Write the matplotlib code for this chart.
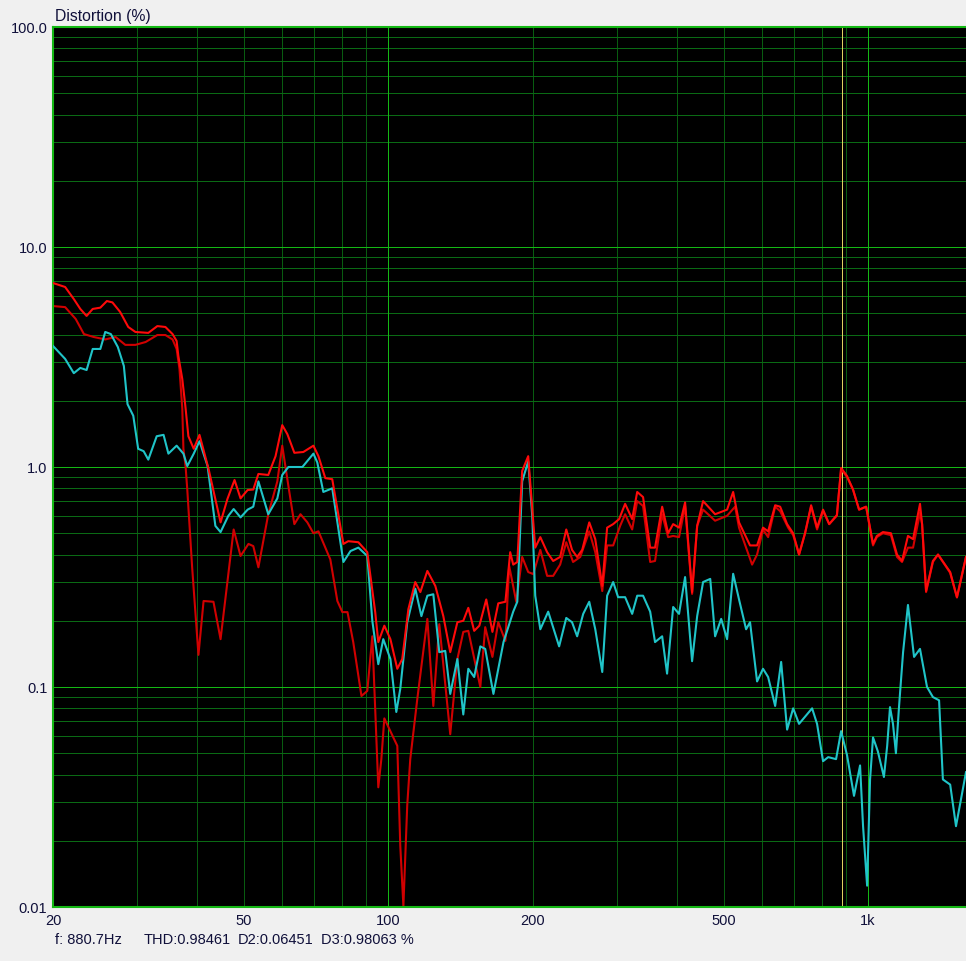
import matplotlib
matplotlib.use("Agg")
import matplotlib.pyplot as plt
from matplotlib.ticker import FixedLocator, NullFormatter

plt.rcParams['font.family'] = ['Liberation Sans', 'DejaVu Sans']

# ---------------- data (frequency in Hz, distortion in %) ----------------
thd_f = [20.0, 21.2, 22.1, 22.8, 23.5, 24.2, 25.1, 25.9, 26.6, 27.6, 28.7, 29.7, 31.6, 33.0, 34.3,
         35.5, 36.2, 36.5, 37.2, 37.8, 38.3, 39.3, 40.4, 42.2, 44.7, 46.2, 47.8, 49.2, 50.9, 52.3,
         53.6, 56.2, 58.2, 60.1, 61.6, 63.7, 66.5, 69.8, 71.5, 73.9, 76.4, 80.6, 82.5, 86.6, 90.4,
         93.9, 95.3, 98.1, 101.0, 104.4, 106.9, 110.1, 113.8, 116.6, 120.6, 125.3, 130.2, 134.6,
         139.3, 143.3, 146.8, 151.0, 154.8, 160.0, 164.8, 169.5, 175.4, 179.5, 182.1, 185.7, 190.1,
         195.7, 198.6, 202.4, 207.4, 214.3, 220.6, 228.1, 234.9, 241.5, 247.5, 253.6, 262.3, 270.0,
         279.2, 285.8, 294.2, 302.8, 311.6, 322.3, 330.2, 339.6, 351.4, 359.7, 372.2, 383.0, 392.4,
         403.6, 415.5, 429.7, 440.3, 453.0, 479.9, 508.3, 523.3, 538.3, 567.5, 573.1, 587.0, 604.0,
         619.0, 640.2, 655.7, 678.0, 698.0, 718.0, 739.0, 760.8, 782.8, 805.7, 829.8, 861.0, 878.6,
         903.9, 930.2, 957.7, 990.7, 1024, 1043, 1074, 1116, 1149, 1177, 1211, 1241, 1283, 1296,
         1321, 1365, 1399, 1483, 1532, 1600]
thd_v = [6.86, 6.58, 5.8, 5.23, 4.86, 5.23, 5.3, 5.68, 5.6, 5.07, 4.33, 4.11, 4.07, 4.37, 4.33,
         4.02, 3.74, 3.2, 2.51, 1.84, 1.38, 1.21, 1.40, 0.98, 0.56, 0.716, 0.873, 0.72, 0.786, 0.79,
         0.93, 0.92, 1.12, 1.55, 1.41, 1.16, 1.17, 1.25, 1.12, 0.89, 0.88, 0.447, 0.46, 0.455, 0.41,
         0.219, 0.16, 0.19, 0.165, 0.121, 0.134, 0.226, 0.30, 0.27, 0.337, 0.288, 0.21, 0.144,
         0.197, 0.2, 0.229, 0.18, 0.19, 0.25, 0.178, 0.24, 0.244, 0.41, 0.36, 0.37, 0.96,
         1.12, 0.74, 0.43, 0.48, 0.41, 0.374, 0.39, 0.52, 0.42, 0.39, 0.42, 0.56, 0.47,
         0.288, 0.53, 0.55, 0.58, 0.68, 0.58, 0.77, 0.73, 0.43, 0.43, 0.66, 0.50, 0.55,
         0.53, 0.69, 0.27, 0.54, 0.70, 0.61, 0.64, 0.77, 0.56, 0.44, 0.44, 0.44, 0.53,
         0.51, 0.67, 0.66, 0.55, 0.50, 0.40, 0.50, 0.67, 0.53, 0.64, 0.55, 0.605, 0.99,
         0.91, 0.79, 0.64, 0.66, 0.447, 0.486, 0.506, 0.50, 0.40, 0.374, 0.486, 0.47, 0.68, 0.55,
         0.273, 0.374, 0.40, 0.333, 0.256, 0.39]

d3_f = [20.0, 21.2, 22.3, 23.2, 24.3, 25.7, 27.0, 28.3, 29.7, 31.2, 33.0, 34.3, 35.5, 36.2, 36.7,
        37.2, 37.4, 37.8, 38.1, 39.0, 40.2, 41.2, 43.2, 44.7, 47.6, 49.2, 51.1, 52.3, 53.6, 56.2,
        58.7, 60.1, 61.9, 63.7, 65.6, 67.8, 69.8, 71.5, 75.7, 78.3, 80.2, 82.2, 84.5, 87.9, 90.4,
        92.6, 93.9, 95.3, 96.7, 98.1, 104.4, 105.9, 107.5, 109.5, 111.1, 114.9, 120.6, 124.1,
        127.7, 134.6, 139.3, 143.3, 146.8, 155.5, 159.2, 164.8, 169.5, 175.4, 178.6, 184.8, 190.1,
        195.7, 200.5, 207.4, 214.3, 220.6, 228.1, 234.9, 242.7, 251.2, 262.3, 270.0, 279.2, 285.8,
        294.2, 304.2, 311.6, 322.3, 330.2, 339.6, 351.4, 359.7, 372.2, 383.0, 392.4, 403.6, 415.5,
        429.7, 440.3, 453.0, 479.9, 508.3, 528.2, 538.3, 573.1, 587.0, 604.0, 619.0, 640.2, 655.7,
        681.3, 698.0, 718.0, 739.0, 760.8, 782.8, 805.7, 829.8, 861.0, 878.6, 903.9, 930.2, 957.7,
        990.7, 1024, 1043, 1074, 1116, 1149, 1177, 1211, 1241, 1283, 1296, 1321, 1365, 1399, 1483,
        1532, 1600]
d3_v = [5.39, 5.33, 4.71, 4.02, 3.9, 3.8, 3.9, 3.59, 3.59, 3.7, 3.98, 3.98, 3.8, 3.44, 2.79,
        1.84, 1.21, 1.0, 0.79, 0.35, 0.14, 0.246, 0.244, 0.165, 0.52, 0.394, 0.447, 0.437, 0.35, 0.61,
        0.86, 1.25, 0.82, 0.55, 0.61, 0.56, 0.50, 0.51, 0.38, 0.246, 0.219, 0.219, 0.16, 0.091, 0.096,
        0.17, 0.079, 0.035, 0.047, 0.072, 0.054, 0.019, 0.0101, 0.029, 0.047, 0.088, 0.204, 0.082,
        0.193, 0.061, 0.134, 0.178, 0.18, 0.1, 0.187, 0.137, 0.197, 0.162, 0.355, 0.244, 0.39,
        0.333, 0.326, 0.42, 0.32, 0.32, 0.36, 0.455, 0.37, 0.39, 0.51, 0.41, 0.273, 0.44,
        0.44, 0.54, 0.61, 0.52, 0.70, 0.665, 0.37, 0.374, 0.61, 0.48, 0.486, 0.48, 0.665,
        0.265, 0.54, 0.64, 0.57, 0.60, 0.66, 0.53, 0.36, 0.40, 0.52, 0.48, 0.66, 0.63,
        0.53, 0.49, 0.40, 0.50, 0.66, 0.52, 0.63, 0.55, 0.60, 0.98, 0.90, 0.79, 0.64,
        0.66, 0.44, 0.48, 0.50, 0.49, 0.39, 0.37, 0.43, 0.43, 0.62, 0.55, 0.27, 0.37, 0.40, 0.33,
        0.255, 0.39]

d2_f = [20.0, 21.2, 22.1, 22.8, 23.5, 24.2, 25.1, 25.7, 26.4, 27.3, 28.1, 28.6, 29.4, 30.1, 30.9,
        31.6, 32.9, 34.0, 34.8, 36.2, 37.4, 38.1, 39.3, 40.4, 42.0, 43.6, 44.7, 46.4, 47.6, 49.2,
        50.9, 52.3, 53.6, 56.2, 58.7, 60.1, 61.9, 66.2, 69.8, 71.1, 73.2, 76.4, 80.6, 83.4, 86.6,
        90.4, 92.6, 95.3, 97.6, 101.0, 103.9, 105.9, 109.5, 113.8, 117.2, 120.6, 124.1, 127.7,
        131.4, 134.6, 139.3, 143.3, 146.8, 151.0, 155.5, 159.2, 165.6, 169.5, 173.8, 182.1, 185.7,
        190.1, 195.7, 199.5, 202.4, 207.4, 215.4, 227.0, 234.9, 241.5, 247.5, 254.8, 262.3, 270.0,
        279.2, 285.8, 294.2, 301.3, 311.6, 322.3, 330.2, 339.6, 351.4, 359.7, 372.2, 381.1, 392.4,
        403.6, 415.5, 429.7, 440.3, 453.0, 468.8, 479.9, 494.1, 508.3, 523.3, 538.3, 556.9, 567.5,
        587.0, 604.0, 619.0, 640.2, 658.9, 678.0, 698.0, 718.0, 764.4, 782.8, 805.7, 825.9, 857.6,
        878.6, 903.9, 934.7, 962.3, 976.2, 995.4, 1009.6, 1024, 1048, 1079, 1096, 1111, 1127, 1143,
        1160, 1183, 1211, 1247, 1283, 1327, 1365, 1406, 1432, 1483, 1525, 1600]
d2_v = [3.55, 3.1, 2.67, 2.82, 2.76, 3.44, 3.44, 4.11, 4.02, 3.51, 2.88, 1.93, 1.71, 1.21, 1.18,
        1.08, 1.38, 1.40, 1.15, 1.25, 1.15, 1.01, 1.15, 1.31, 1.01, 0.54, 0.506, 0.60, 0.644, 0.59,
        0.64, 0.66, 0.86, 0.61, 0.72, 0.92, 1.0, 1.0, 1.15, 1.05, 0.77, 0.80, 0.37, 0.415, 0.43,
        0.394, 0.2, 0.127, 0.165, 0.134, 0.077, 0.098, 0.197, 0.28, 0.21, 0.26, 0.264, 0.144,
        0.146, 0.093, 0.134, 0.075, 0.121, 0.111, 0.153, 0.149, 0.093, 0.121, 0.16, 0.22, 0.244,
        0.86, 1.06, 0.6, 0.26, 0.183, 0.22, 0.153, 0.206, 0.197, 0.17, 0.215, 0.244, 0.183,
        0.117, 0.26, 0.30, 0.256, 0.256, 0.215, 0.26, 0.26, 0.22, 0.16, 0.17, 0.115, 0.231,
        0.215, 0.316, 0.131, 0.21, 0.30, 0.31, 0.17, 0.204, 0.165, 0.327, 0.25, 0.183, 0.197,
        0.106, 0.121, 0.111, 0.082, 0.13, 0.064, 0.080, 0.068, 0.080, 0.068, 0.046, 0.048, 0.047,
        0.063, 0.049, 0.032, 0.044, 0.0233, 0.0125, 0.038, 0.059, 0.051, 0.039, 0.054, 0.081, 0.068, 0.05,
        0.081, 0.144, 0.236, 0.137, 0.149, 0.1, 0.09, 0.087, 0.038, 0.036, 0.0233, 0.041]

cursor_freq = 880.7
readout = {"THD": "0.98461", "D2": "0.06451", "D3": "0.98063"}

x_major = [100, 1000]
x_minor = [30, 40, 50, 60, 70, 80, 90, 200, 300, 400, 500, 600, 700, 800, 900, 2000]
x_label_map = {20: "20", 50: "50", 100: "100", 200: "200", 500: "500", 1000: "1k"}
y_major = [0.01, 0.1, 1, 10, 100]
y_minor = [m * d for d in [0.01, 0.1, 1, 10] for m in range(2, 10)]
y_label_map = {0.01: "0.01", 0.1: "0.1", 1: "1.0", 10: "10.0", 100: "100.0"}

# ---------------- style ----------------
BG = "#f0f0f0"
TXT = "#10103a"
MAJOR = "#14b814"
MINOR_H = "#0a6a14"
MINOR_V = "#085c10"
C_THD = "#ff0a0a"
C_D3 = "#d00000"
C_D2 = "#20c4c8"
FS = 10.5
GLW = 0.72

fig = plt.figure(figsize=(9.66, 9.62), dpi=100, facecolor=BG)
ax = fig.add_axes([53 / 966, 54 / 962, 1 - 53 / 966, 880 / 962])
ax.set_facecolor("black")
ax.set_xscale("log")
ax.set_yscale("log")
ax.set_xlim(20, 1600)
ax.set_ylim(0.01, 100)

for v in x_minor:
    ax.axvline(v, color=MINOR_V, lw=GLW, zorder=0.5, antialiased=False)
for v in y_minor:
    ax.axhline(v, color=MINOR_H, lw=GLW, zorder=0.5, antialiased=False)
for v in x_major:
    ax.axvline(v, color=MAJOR, lw=GLW, zorder=0.6, antialiased=False)
for v in y_major:
    ax.axhline(v, color=MAJOR, lw=GLW, zorder=0.6, antialiased=False)

ax.axvline(cursor_freq, color="#e0d060", lw=GLW, zorder=1.0, antialiased=False)

ax.plot(d3_f, d3_v, color=C_D3, lw=1.5, zorder=2)
ax.plot(d2_f, d2_v, color=C_D2, lw=1.5, zorder=3)
ax.plot(thd_f, thd_v, color=C_THD, lw=1.5, zorder=4)

xt = list(x_label_map.keys())
ax.xaxis.set_major_locator(FixedLocator(xt))
ax.xaxis.set_minor_locator(FixedLocator([]))
ax.set_xticks(xt)
ax.set_xticklabels([x_label_map[k] for k in xt])
yt = list(y_label_map.keys())
ax.yaxis.set_major_locator(FixedLocator(yt))
ax.yaxis.set_minor_locator(FixedLocator([]))
ax.set_yticks(yt)
ax.set_yticklabels([y_label_map[k] for k in yt])
ax.yaxis.set_minor_formatter(NullFormatter())
ax.xaxis.set_minor_formatter(NullFormatter())
ax.tick_params(axis="both", which="both", length=0, labelsize=FS, colors=TXT)
ax.tick_params(axis="x", pad=4)
ax.tick_params(axis="y", pad=4)

for s in ["left", "top", "bottom"]:
    ax.spines[s].set_color(MAJOR)
    ax.spines[s].set_linewidth(1.5)
ax.spines["right"].set_visible(False)

fig.text(55 / 966, 1 - 16 / 962, "Distortion (%)", fontsize=11.3, color=TXT, ha="left", va="center")
fig.text(55 / 966, 1 - 940 / 962, f"f: {cursor_freq}Hz", fontsize=FS, color=TXT, ha="left", va="center")
fig.text(144 / 966, 1 - 940 / 962, f"THD:{readout['THD']}", fontsize=FS, color=TXT, ha="left", va="center")
fig.text(238 / 966, 1 - 940 / 962, f"D2:{readout['D2']}", fontsize=FS, color=TXT, ha="left", va="center")
fig.text(321 / 966, 1 - 940 / 962, f"D3:{readout['D3']} %", fontsize=FS, color=TXT, ha="left", va="center")

fig.savefig("out.png", dpi=100, facecolor=BG)
